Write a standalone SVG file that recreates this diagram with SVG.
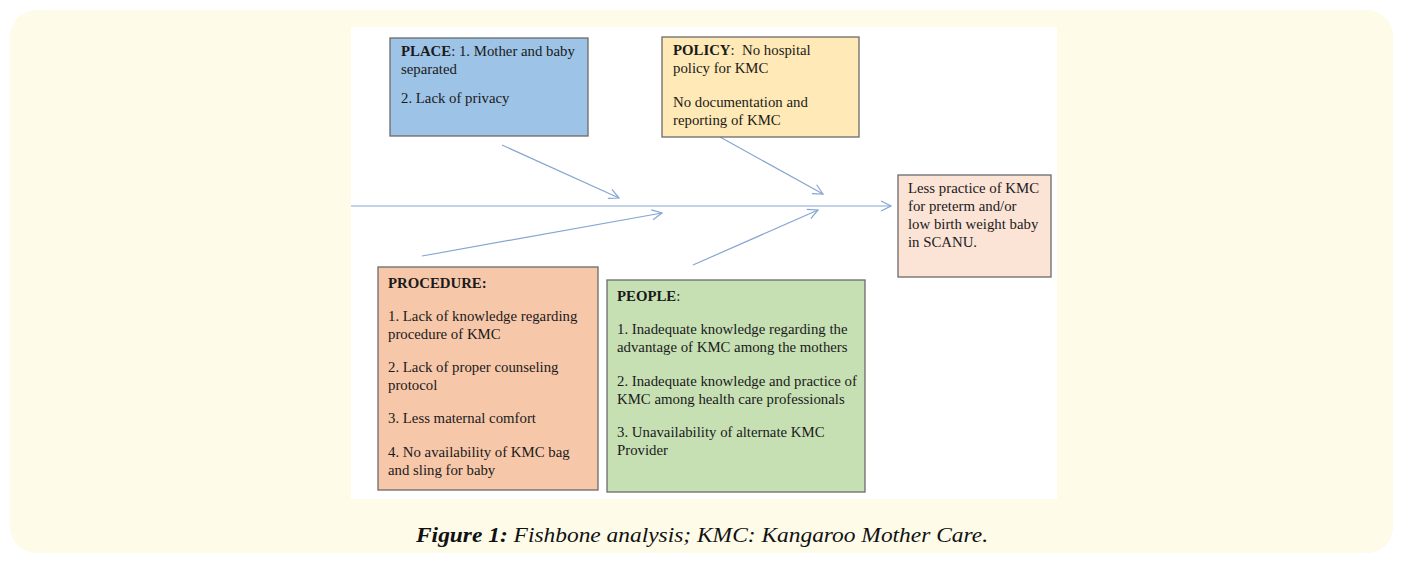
<svg xmlns="http://www.w3.org/2000/svg" width="1403" height="564" viewBox="0 0 1403 564">
<style>
.box{stroke:#6b6b6b;stroke-width:1.3}
.t{font-family:"Liberation Serif","Times New Roman",serif;font-size:14.8px;fill:#1a1a1a}
.b{font-weight:bold}
.con{stroke:#86a6d2;stroke-width:1.2;fill:none}
.cap{font-family:"Liberation Serif",serif;font-style:italic;font-size:21px;fill:#111}
</style>
<defs>
<marker id="ah" viewBox="0 0 12 12" refX="11" refY="6" markerWidth="12" markerHeight="12" markerUnits="userSpaceOnUse" orient="auto">
<path d="M1,1 L11,6 L1,11" fill="none" stroke="#86a6d2" stroke-width="1.2"/>
</marker>
</defs>
<rect x="0" y="0" width="1403" height="564" fill="#ffffff"/>
<rect x="10" y="10" width="1383" height="543" rx="26" fill="#fefbe8"/>
<rect x="351" y="27" width="706" height="472" fill="#ffffff"/>
<g id="connectors">
<line class="con" x1="351" y1="206" x2="891" y2="206" marker-end="url(#ah)"/>
<line class="con" x1="502" y1="145" x2="619" y2="198" marker-end="url(#ah)"/>
<line class="con" x1="720" y1="137" x2="823" y2="194" marker-end="url(#ah)"/>
<line class="con" x1="422" y1="256" x2="662" y2="213" marker-end="url(#ah)"/>
<line class="con" x1="693" y1="265" x2="818" y2="210" marker-end="url(#ah)"/>
</g>
<g id="place">
<rect class="box" x="390" y="38" width="198" height="98" fill="#9dc3e6"/>
<text class="t" x="401" y="56"><tspan class="b">PLACE</tspan>: 1. Mother and baby</text>
<text class="t" x="401" y="74">separated</text>
<text class="t" x="401" y="103">2. Lack of privacy</text>
</g>
<g id="policy">
<rect class="box" x="662" y="37" width="197" height="100" fill="#ffe9b6"/>
<text class="t" x="673" y="55"><tspan class="b">POLICY</tspan>:&#160; No hospital</text>
<text class="t" x="673" y="73">policy for KMC</text>
<text class="t" x="673" y="107">No documentation and</text>
<text class="t" x="673" y="125">reporting of KMC</text>
</g>
<g id="result">
<rect class="box" x="898" y="175" width="153" height="102" fill="#fbe3d6"/>
<text class="t" x="908" y="193">Less practice of KMC</text>
<text class="t" x="908" y="211">for preterm and/or</text>
<text class="t" x="908" y="229">low birth weight baby</text>
<text class="t" x="908" y="247">in SCANU.</text>
</g>
<g id="procedure">
<rect class="box" x="378" y="267" width="220" height="223" fill="#f7c7a9"/>
<text class="t b" x="388" y="288">PROCEDURE:</text>
<text class="t" x="388" y="321">1. Lack of knowledge regarding</text>
<text class="t" x="388" y="339">procedure of KMC</text>
<text class="t" x="388" y="372">2. Lack of proper counseling</text>
<text class="t" x="388" y="390">protocol</text>
<text class="t" x="388" y="423">3. Less maternal comfort</text>
<text class="t" x="388" y="457">4. No availability of KMC bag</text>
<text class="t" x="388" y="475">and sling for baby</text>
</g>
<g id="people">
<rect class="box" x="607" y="280" width="258" height="212" fill="#c6e0b4"/>
<text class="t" x="617" y="301"><tspan class="b">PEOPLE</tspan>:</text>
<text class="t" x="617" y="334">1. Inadequate knowledge regarding the</text>
<text class="t" x="617" y="352">advantage of KMC among the mothers</text>
<text class="t" x="617" y="386">2. Inadequate knowledge and practice of</text>
<text class="t" x="617" y="404">KMC among health care professionals</text>
<text class="t" x="617" y="437">3. Unavailability of alternate KMC</text>
<text class="t" x="617" y="455">Provider</text>
</g>
<text class="cap" x="416" y="542" textLength="572" lengthAdjust="spacingAndGlyphs"><tspan font-weight="bold">Figure 1:</tspan> Fishbone analysis; KMC: Kangaroo Mother Care.</text>
</svg>
